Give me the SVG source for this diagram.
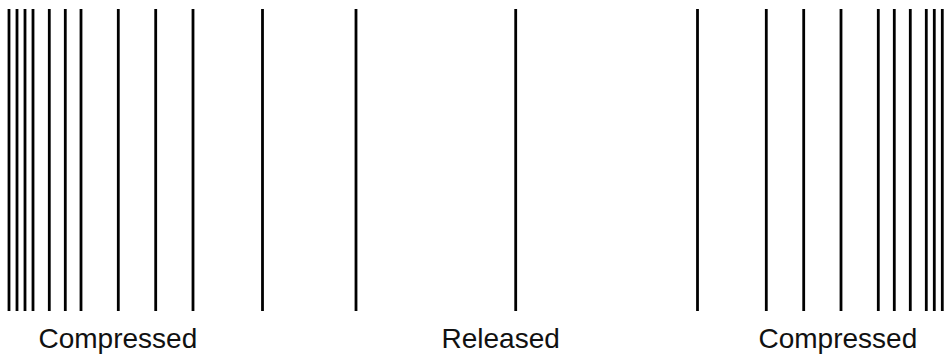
<svg xmlns="http://www.w3.org/2000/svg" width="946" height="358" viewBox="0 0 946 358">
<style>
.l{stroke:#000;stroke-width:2.8}
.t{font-family:"Liberation Sans",Arial,sans-serif;font-size:28px;fill:#111}
</style>
<rect width="946" height="358" fill="#fff"/>
<g id="lines">
<line class="l" x1="9" y1="9" x2="9" y2="311"/>
<line class="l" x1="17" y1="9" x2="17" y2="311"/>
<line class="l" x1="25" y1="9" x2="25" y2="311"/>
<line class="l" x1="33" y1="9" x2="33" y2="311"/>
<line class="l" x1="49.3" y1="9" x2="49.3" y2="311"/>
<line class="l" x1="65.3" y1="9" x2="65.3" y2="311"/>
<line class="l" x1="81" y1="9" x2="81" y2="311"/>
<line class="l" x1="118.3" y1="9" x2="118.3" y2="311"/>
<line class="l" x1="155.7" y1="9" x2="155.7" y2="311"/>
<line class="l" x1="193" y1="9" x2="193" y2="311"/>
<line class="l" x1="262.5" y1="9" x2="262.5" y2="311"/>
<line class="l" x1="356" y1="9" x2="356" y2="311"/>
<line class="l" x1="515.7" y1="9" x2="515.7" y2="311"/>
<line class="l" x1="697.5" y1="9" x2="697.5" y2="311"/>
<line class="l" x1="766.3" y1="9" x2="766.3" y2="311"/>
<line class="l" x1="803.7" y1="9" x2="803.7" y2="311"/>
<line class="l" x1="841" y1="9" x2="841" y2="311"/>
<line class="l" x1="878.3" y1="9" x2="878.3" y2="311"/>
<line class="l" x1="894.3" y1="9" x2="894.3" y2="311"/>
<line class="l" x1="910.3" y1="9" x2="910.3" y2="311"/>
<line class="l" x1="926.3" y1="9" x2="926.3" y2="311"/>
<line class="l" x1="934.3" y1="9" x2="934.3" y2="311"/>
<line class="l" x1="942.3" y1="9" x2="942.3" y2="311"/>
</g>
<g id="labels">
<text class="t" x="38.5" y="348">Compressed</text>
<text class="t" x="441.5" y="348">Released</text>
<text class="t" x="758.5" y="348">Compressed</text>
</g>
</svg>
